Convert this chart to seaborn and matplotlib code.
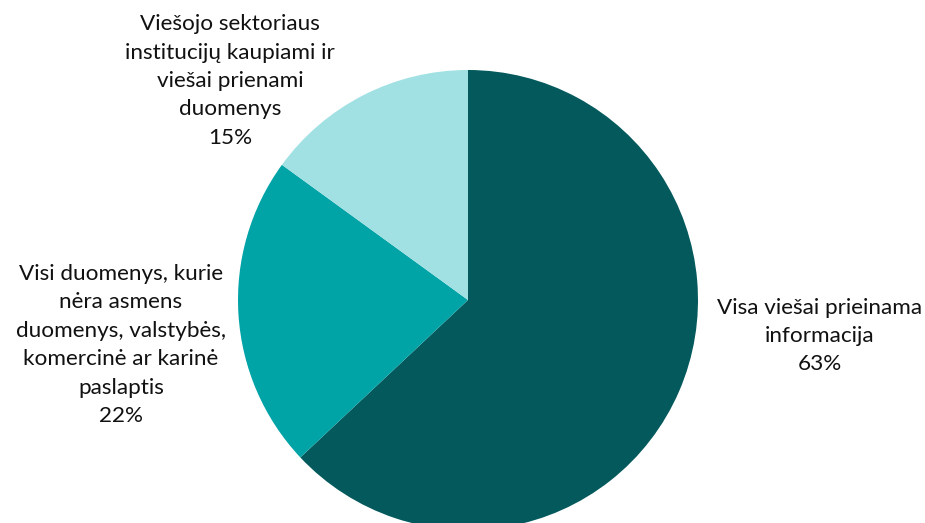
import matplotlib
matplotlib.use("Agg")
import matplotlib.pyplot as plt
import seaborn as sns

# slice data (clockwise from 12 o'clock)
categories = [
    "Visa viešai prieinama\ninformacija",
    "Visi duomenys, kurie\nnėra asmens\nduomenys, valstybės,\nkomercinė ar karinė\npaslaptis",
    "Viešojo sektoriaus\ninstitucijų kaupiami ir\nviešai prienami\nduomenys",
]
shares = [63, 22, 15]
colors = ["#03595C", "#00A3A6", "#A1E1E3"]

sns.set_theme(style="white")
plt.rcParams["font.family"] = ["Lato", "DejaVu Sans"]

fig = plt.figure(figsize=(9.25, 5.23), dpi=100)
ax = fig.add_axes([0, 0, 1, 1])

ax.pie(shares, colors=colors, startangle=90, counterclock=False,
       center=(468, 223), radius=230, frame=True,
       wedgeprops=dict(linewidth=0))
ax.set_xlim(0, 925)
ax.set_ylim(0, 523)
ax.set_aspect("equal")
ax.axis("off")

# label positions (pixel centres of each text block)
label_pos = [(820, 187), (121, 178), (230, 442)]
for cat, val, (x, y) in zip(categories, shares, label_pos):
    ax.text(x, y, f"{cat}\n{val}%", ha="center", va="center",
            fontsize=16.2, linespacing=1.53, color="#111111")

fig.savefig("out.png", dpi=100)
